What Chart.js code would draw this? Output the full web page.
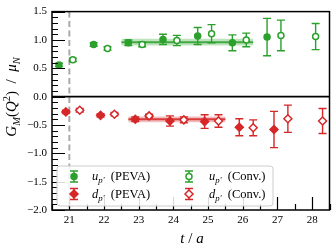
<!DOCTYPE html>
<html><head><meta charset="utf-8">
<script src="https://cdn.jsdelivr.net/npm/chart.js@4"></script>
<style>html,body{margin:0;padding:0;background:#fff}canvas{display:block}</style>
</head><body>
<canvas id="c" width="335" height="251"></canvas>
<script>
// ---- data ----
const uPevaT = [20.7, 21.7, 22.7, 23.7, 24.7, 25.7, 26.7];
const uPevaV = [0.56, 0.92, 0.95, 1.01, 1.07, 0.95, 1.05];
const uPevaE = [0.03, 0.03, 0.05, 0.09, 0.15, 0.14, 0.33];
const uConvT = [21.1, 22.1, 23.1, 24.1, 25.1, 26.1, 27.1, 28.1];
const uConvV = [0.65, 0.85, 0.92, 0.99, 1.11, 1.00, 1.08, 1.06];
const uConvE = [0.03, 0.03, 0.04, 0.09, 0.16, 0.12, 0.27, 0.23];
const dPevaT = [20.9, 21.9, 22.9, 23.9, 24.9, 25.9, 26.9];
const dPevaV = [-0.27, -0.33, -0.40, -0.43, -0.44, -0.54, -0.58];
const dPevaE = [0.03, 0.03, 0.04, 0.09, 0.12, 0.15, 0.32];
const dConvT = [21.3, 22.3, 23.3, 24.3, 25.3, 26.3, 27.3, 28.3];
const dConvV = [-0.24, -0.31, -0.34, -0.41, -0.43, -0.55, -0.39, -0.43];
const dConvE = [0.03, 0.03, 0.03, 0.05, 0.11, 0.14, 0.24, 0.22];
const uFitRange = [22.5, 26.3];
const uFit = [0.96, 0.06];
const dFitRange = [22.7, 25.5];
const dFit = [-0.40, 0.05];
const dashX = 21;
const xTicks = [21, 22, 23, 24, 25, 26, 27, 28];
const yTicks = [-2.0, -1.5, -1.0, -0.5, 0.0, 0.5, 1.0, 1.5];
const legendLabels = [
  [{t:'u',it:1},{t:'p\u2032',it:1,sub:1},{t:'  (PEVA)'}],
  [{t:'u',it:1},{t:'p\u2032',it:1,sub:1},{t:'  (Conv.)'}],
  [{t:'d',it:1},{t:'p\u2032',it:1,sub:1},{t:'  (PEVA)'}],
  [{t:'d',it:1},{t:'p\u2032',it:1,sub:1},{t:'  (Conv.)'}]
];
const yTitle = [{t:'G',it:1},{t:'M',it:1,sub:1},{t:'('},{t:'Q',it:1},{t:'2',sup:1},{t:')  /  '},{t:'\u03bc',it:1},{t:'N',it:1,sub:1}];
const xTitle = [{t:'t',it:1},{t:' / '},{t:'a',it:1}];

const G = '#2ca02c', R = '#d62728';
const FONT = '"Liberation Serif", "Times New Roman", serif';
const pts = (t, v) => t.map((x, i) => ({x, y: v[i]}));
const seg = (r, y) => [{x: r[0], y}, {x: r[1], y}];

function richWidth(ctx, segs, size) {
  let w = 0;
  for (const s of segs) {
    const fs = (s.sub || s.sup) ? size * 0.7 : size;
    ctx.font = (s.it ? 'italic ' : '') + fs + 'px ' + FONT;
    w += ctx.measureText(s.t).width;
  }
  return w;
}
function drawRich(ctx, segs, x, y, size, align) {
  let w = richWidth(ctx, segs, size);
  let cx = align === 'center' ? x - w / 2 : x;
  ctx.textBaseline = 'alphabetic';
  ctx.textAlign = 'left';
  for (const s of segs) {
    const fs = (s.sub || s.sup) ? size * 0.7 : size;
    ctx.font = (s.it ? 'italic ' : '') + fs + 'px ' + FONT;
    const dy = s.sub ? size * 0.25 : (s.sup ? -size * 0.38 : 0);
    ctx.fillText(s.t, cx, y + dy);
    cx += ctx.measureText(s.t).width;
  }
}
function drawMarker(ctx, x, y, style, color, filled) {
  ctx.save();
  ctx.lineWidth = 1.5;
  ctx.strokeStyle = color;
  ctx.fillStyle = filled ? color : '#fff';
  ctx.beginPath();
  if (style === 'circle') ctx.arc(x, y, 3, 0, Math.PI * 2);
  else { const r = 4; ctx.moveTo(x, y - r); ctx.lineTo(x + r, y); ctx.lineTo(x, y + r); ctx.lineTo(x - r, y); ctx.closePath(); }
  ctx.fill(); ctx.stroke();
  ctx.restore();
}
function errBar(ctx, px, y1, y2, color) {
  ctx.save();
  ctx.strokeStyle = color; ctx.lineWidth = 1.4;
  ctx.beginPath();
  ctx.moveTo(px, y1); ctx.lineTo(px, y2);
  ctx.moveTo(px - 4, y1); ctx.lineTo(px + 4, y1);
  ctx.moveTo(px - 4, y2); ctx.lineTo(px + 4, y2);
  ctx.stroke();
  ctx.restore();
}

const errPlugin = {
  id: 'err',
  beforeDatasetDraw(chart, args) {
    const ds = chart.data.datasets[args.index];
    if (!ds.errors) return;
    const xs = chart.scales.x, ys = chart.scales.y;
    ds.data.forEach((p, i) => {
      const px = xs.getPixelForValue(p.x);
      errBar(chart.ctx, px, ys.getPixelForValue(p.y - ds.errors[i]), ys.getPixelForValue(p.y + ds.errors[i]), ds.borderColor);
    });
  }
};

const decoPlugin = {
  id: 'deco',
  beforeDatasetsDraw(chart) {
    const ctx = chart.ctx, a = chart.chartArea, xs = chart.scales.x;
    const px = xs.getPixelForValue(dashX);
    ctx.save();
    ctx.strokeStyle = '#aaaaaa'; ctx.lineWidth = 2; ctx.setLineDash([6, 3.5]);
    ctx.beginPath(); ctx.moveTo(px, a.top); ctx.lineTo(px, a.bottom); ctx.stroke();
    ctx.restore();
  },
  afterDatasetsDraw(chart) {
    const ctx = chart.ctx, a = chart.chartArea, xs = chart.scales.x, ys = chart.scales.y;
    ctx.save();
    ctx.strokeStyle = '#000';
    const y0 = ys.getPixelForValue(0);
    ctx.lineWidth = 1.8;
    ctx.beginPath(); ctx.moveTo(a.left, y0); ctx.lineTo(a.right, y0); ctx.stroke();
    ctx.lineWidth = 1.2;
    ctx.beginPath();
    for (let k = -20; k <= 15; k++) {
      const v = k / 10, py = Math.round(ys.getPixelForValue(v)) + 0.5;
      const len = (k % 5 === 0) ? 13 : 6;
      ctx.moveTo(a.left, py); ctx.lineTo(a.left + len, py);
    }
    for (let k = 41; k <= 57; k++) {
      const v = k / 2, px = Math.round(xs.getPixelForValue(v)) + 0.5;
      const len = (k % 2 === 0) ? 13 : 6;
      ctx.moveTo(px, a.bottom); ctx.lineTo(px, a.bottom - len);
    }
    ctx.stroke();
    ctx.lineWidth = 1.5;
    ctx.strokeRect(a.left, a.top, a.right - a.left, a.bottom - a.top);
    ctx.restore();
  },
  afterDraw(chart) {
    const ctx = chart.ctx;
    ctx.save();
    const bx = 57, by = 166, bw = 216, bh = 40, r = 3;
    ctx.beginPath();
    ctx.moveTo(bx + r, by); ctx.lineTo(bx + bw - r, by); ctx.arcTo(bx + bw, by, bx + bw, by + r, r);
    ctx.lineTo(bx + bw, by + bh - r); ctx.arcTo(bx + bw, by + bh, bx + bw - r, by + bh, r);
    ctx.lineTo(bx + r, by + bh); ctx.arcTo(bx, by + bh, bx, by + bh - r, r);
    ctx.lineTo(bx, by + r); ctx.arcTo(bx, by, bx + r, by, r);
    ctx.closePath();
    ctx.fillStyle = 'rgba(255,255,255,0.85)'; ctx.fill();
    ctx.strokeStyle = '#cccccc'; ctx.lineWidth = 1; ctx.stroke();
    const items = [
      {x: 74, y: 176.5, c: G, s: 'circle', f: true, tx: 92},
      {x: 189, y: 176.5, c: G, s: 'circle', f: false, tx: 209},
      {x: 74, y: 194, c: R, s: 'diamond', f: true, tx: 92},
      {x: 189, y: 194, c: R, s: 'diamond', f: false, tx: 209}
    ];
    items.forEach((it, i) => {
      errBar(ctx, it.x, it.y - 5.5, it.y + 5.5, it.c);
      drawMarker(ctx, it.x, it.y, it.s, it.c, it.f);
      ctx.fillStyle = '#000';
      drawRich(ctx, legendLabels[i], it.tx, it.y + 3.5, 12.5, 'left');
    });
    ctx.fillStyle = '#000';
    drawRich(ctx, xTitle, 192, 243, 15, 'center');
    ctx.translate(16, 97);
    ctx.rotate(-Math.PI / 2);
    drawRich(ctx, yTitle, 0, 0, 15, 'center');
    ctx.restore();
  }
};

const datasets = [
  {type: 'line', data: seg(uFitRange, uFit[0] - uFit[1]), borderWidth: 0, pointRadius: 0, fill: false, order: 20},
  {type: 'line', data: seg(uFitRange, uFit[0] + uFit[1]), borderWidth: 0, pointRadius: 0, fill: '-1', backgroundColor: 'rgba(44,160,44,0.3)', order: 20},
  {type: 'line', data: seg(uFitRange, uFit[0]), borderColor: 'rgba(44,160,44,0.85)', borderWidth: 2, pointRadius: 0, fill: false, order: 19},
  {type: 'line', data: seg(dFitRange, dFit[0] - dFit[1]), borderWidth: 0, pointRadius: 0, fill: false, order: 20},
  {type: 'line', data: seg(dFitRange, dFit[0] + dFit[1]), borderWidth: 0, pointRadius: 0, fill: '-1', backgroundColor: 'rgba(214,39,40,0.3)', order: 20},
  {type: 'line', data: seg(dFitRange, dFit[0]), borderColor: 'rgba(214,39,40,0.85)', borderWidth: 2, pointRadius: 0, fill: false, order: 19},
  {data: pts(uPevaT, uPevaV), errors: uPevaE, borderColor: G, backgroundColor: G, pointStyle: 'circle', pointRadius: 3, pointBorderWidth: 1.5, order: 1},
  {data: pts(uConvT, uConvV), errors: uConvE, borderColor: G, backgroundColor: '#fff', pointStyle: 'circle', pointRadius: 3, pointBorderWidth: 1.5, order: 1},
  {data: pts(dPevaT, dPevaV), errors: dPevaE, borderColor: R, backgroundColor: R, pointStyle: 'rectRot', pointRadius: 4, pointBorderWidth: 1.5, order: 1},
  {data: pts(dConvT, dConvV), errors: dConvE, borderColor: R, backgroundColor: '#fff', pointStyle: 'rectRot', pointRadius: 4, pointBorderWidth: 1.5, order: 1}
];

new Chart(document.getElementById('c'), {
  type: 'scatter',
  data: {datasets},
  options: {
    responsive: false,
    animation: false,
    devicePixelRatio: 1,
    layout: {padding: {top: 7, right: 3, left: 0, bottom: 0}},
    plugins: {legend: {display: false}, tooltip: {enabled: false}},
    scales: {
      x: {
        type: 'linear', min: 20.5, max: 28.5,
        afterBuildTicks: s => { s.ticks = xTicks.map(v => ({value: v})); },
        afterFit: s => { s.height = 41; },
        grid: {display: false, drawTicks: false},
        border: {display: false},
        ticks: {padding: 4, color: '#000', font: {family: FONT, size: 11}, callback: v => String(v), maxRotation: 0, autoSkip: false}
      },
      y: {
        type: 'linear', min: -2, max: 1.5,
        afterBuildTicks: s => { s.ticks = yTicks.map(v => ({value: v})); },
        afterFit: s => { s.width = 52; },
        grid: {display: false, drawTicks: false},
        border: {display: false},
        ticks: {padding: 5, color: '#000', font: {family: FONT, size: 11}, callback: v => (v < 0 ? '\u2212' : '') + Math.abs(v).toFixed(1), autoSkip: false}
      }
    }
  },
  plugins: [errPlugin, decoPlugin]
});
</script>
</body></html>
